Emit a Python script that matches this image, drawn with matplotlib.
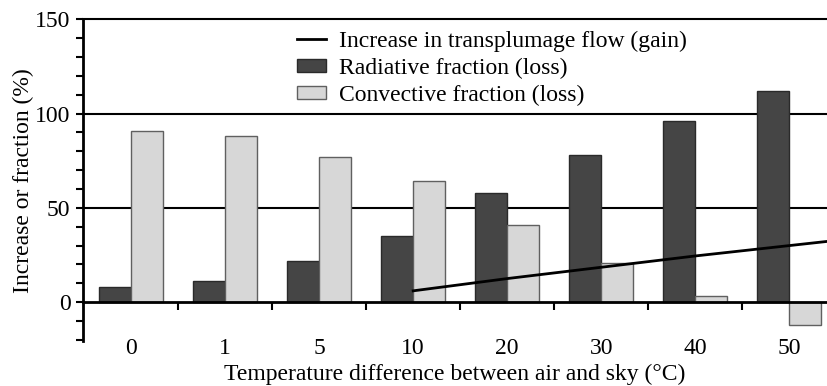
import numpy as np
import matplotlib
matplotlib.use('Agg')
import matplotlib.pyplot as plt
from matplotlib.ticker import MultipleLocator

plt.rcParams['font.family'] = ['Liberation Serif', 'DejaVu Serif']
plt.rcParams['font.size'] = 17

# 데이터
categories = ['0', '1', '5', '10', '20', '30', '40', '50']
radiative = [8, 11, 22, 35, 58, 78, 96, 112]
convective = [91, 88, 77, 64.5, 41, 21, 3, -12]
gain_pos = [3, 4, 5, 6, 7, 8]
gain = [6, 12.5, 18.5, 24.5, 30, 35.5]

x = np.arange(len(categories))
w = 0.34

fig = plt.figure(figsize=(8.27, 3.86), dpi=100)
ax = fig.add_axes([0.1004, 0.1166, 0.8996, 0.8334])

# 격자선
for yv in [50, 100, 150]:
    ax.axhline(yv, color='black', lw=1.5, zorder=1, clip_on=False)

ax.bar(x - w / 2, radiative, w, color='#454545', edgecolor='#2a2a2a', lw=1,
       label='Radiative fraction (loss)', zorder=2)
ax.bar(x + w / 2, convective, w, color='#d7d7d7', edgecolor='#606060', lw=1,
       label='Convective fraction (loss)', zorder=2)
ax.plot(gain_pos, gain, color='black', lw=2,
        label='Increase in transplumage flow (gain)', zorder=3)

ax.set_xlim(-0.51, 7.40)
ax.set_ylim(-20.6, 150)

for s in ['top', 'right']:
    ax.spines[s].set_visible(False)
ax.spines['left'].set_linewidth(2)
ax.spines['bottom'].set_position(('data', 0))
ax.spines['bottom'].set_linewidth(2)
ax.spines['bottom'].set_zorder(4)

ax.set_yticks([0, 50, 100, 150])
ax.yaxis.set_minor_locator(MultipleLocator(10))
ax.tick_params(axis='y', which='both', direction='out', length=5, width=1.5, pad=4)

ax.set_xticks(x)
ax.set_xticklabels(categories)
ax.set_xticks(x[:-1] + 0.5, minor=True)
ax.tick_params(axis='x', which='major', length=0, pad=26)
ax.tick_params(axis='x', which='minor', direction='out', length=6, width=1.5)

ax.set_xlabel('Temperature difference between air and sky (°C)', labelpad=3)
ax.set_ylabel('Increase or fraction (%)', labelpad=1)

h, l = ax.get_legend_handles_labels()
ax.legend(h, l, loc='upper left',
          bbox_to_anchor=(0.281, 0.98), frameon=False, handlelength=1.25,
          handleheight=0.45, handletextpad=0.55, labelspacing=0.25,
          borderpad=0.2, borderaxespad=0)

fig.savefig('out.png', dpi=100)
